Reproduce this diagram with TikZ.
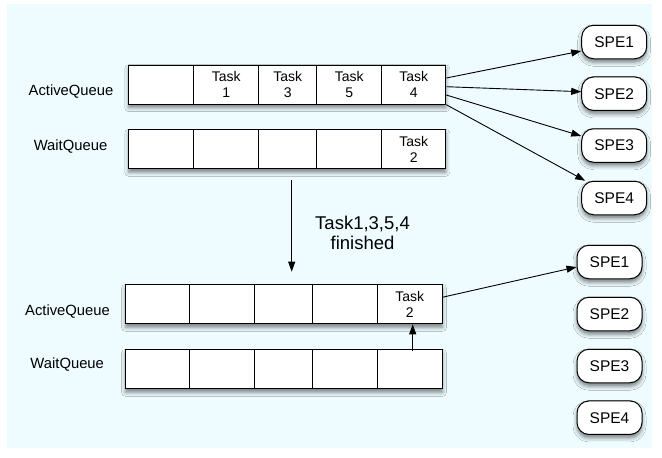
\documentclass[tikz,border=0pt]{standalone}
\usepackage{fontspec}
\setmainfont{Liberation Sans}
\usetikzlibrary{arrows.meta,shadows.blur}
\definecolor{pagebg}{RGB}{238,252,255}
\definecolor{shade}{RGB}{30,40,80}
\tikzset{
  softshadow/.style={blur shadow={shadow xshift=0pt,shadow yshift=-3.5pt,shadow blur radius=4pt,shadow opacity=50}},
  strip/.style={draw,line width=1pt,fill=white,softshadow,anchor=north west,minimum height=39pt,inner sep=0pt},
  cell/.style={draw,line width=1pt,fill=white,anchor=north west,minimum height=39pt,inner sep=0pt,
    align=center,font=\fontsize{14}{16}\selectfont},
  spe/.style={draw,line width=1pt,fill=white,rounded corners=12pt,minimum width=65pt,minimum height=33.5pt,
    inner sep=0pt,softshadow,font=\fontsize{15.5}{17}\selectfont},
  qlabel/.style={font=\fontsize{14.8}{17}\selectfont},
  arr/.style={line width=0.9pt,-{Triangle[length=10pt,width=7pt]}},
}
\begin{document}
\begin{tikzpicture}[x=1pt,y=-1pt]
\useasboundingbox (0,0) rectangle (662,458);
\fill[pagebg] (7,4) rectangle (652,448);

% upper pair of queues
\node[strip,minimum width=317pt] (qa) at (128.3,64.7) {};
\node[strip,minimum width=317pt] (qw) at (128.3,129.3) {};
\foreach \q/\y/\tA/\tB/\tC/\tD/\tE in {a/64.7/{}/{Task\\1}/{Task\\3}/{Task\\5}/{Task\\4},
                                       w/129.3/{}/{}/{}/{}/{Task\\2}}{
  \node[cell,minimum width=65pt] (\q1) at (128.3,\y) {\tA};
  \node[cell,minimum width=65pt] (\q2) at (193.3,\y) {\tB};
  \node[cell,minimum width=58pt] (\q3) at (258.3,\y) {\tC};
  \node[cell,minimum width=65pt] (\q4) at (316.3,\y) {\tD};
  \node[cell,minimum width=64pt] (\q5) at (381.3,\y) {\tE};
}
\node[qlabel] (la) at (71,91.7) {ActiveQueue};
\node[qlabel] (lw) at (70.5,146.7) {WaitQueue};

% lower pair of queues
\node[strip,minimum width=317pt] (qb) at (125,284.3) {};
\node[strip,minimum width=317pt] (qv) at (125,349.3) {};
\foreach \q/\y/\tE in {b/284.3/{Task\\2}, v/349.3/{}}{
  \node[cell,minimum width=64.3pt] (\q1) at (125,\y) {};
  \node[cell,minimum width=65pt] (\q2) at (189.3,\y) {};
  \node[cell,minimum width=57.7pt] (\q3) at (254.3,\y) {};
  \node[cell,minimum width=64.7pt] (\q4) at (312,\y) {};
  \node[cell,minimum width=65pt] (\q5) at (376.7,\y) {\tE};
}
\node[qlabel] (lb) at (67.5,311.7) {ActiveQueue};
\node[qlabel] (lv) at (67.2,365) {WaitQueue};

% processing elements
\node[spe] (s1) at (614.2,42) {SPE1};
\node[spe] (s2) at (614.2,93.7) {SPE2};
\node[spe] (s3) at (614.2,145.5) {SPE3};
\node[spe] (s4) at (614.2,198) {SPE4};
\node[spe] (t1) at (609.5,262) {SPE1};
\node[spe] (t2) at (609.5,314) {SPE2};
\node[spe] (t3) at (609.5,366) {SPE3};
\node[spe] (t4) at (609.5,417.7) {SPE4};

% dispatch to the SPEs
\draw[arr] ([yshift=6.7pt]a5.east) -- ([yshift=-9pt]s1.west);
\draw[arr] ([yshift=-2pt]a5.east) -- ([yshift=2pt]s2.west);
\draw[arr] ([yshift=-10.3pt]a5.east) -- ([yshift=9.5pt]s3.west);
\draw[arr] (a5.south east) -- ([xshift=4pt]s4.north west);
\draw[arr] ([yshift=7.1pt]b5.east) -- ([yshift=-5pt]t1.west);

% transition between the two states
\coordinate (d0) at (291.7,180);
\coordinate (d1) at (291.7,271.7);
\draw[arr] (d0) -- (d1);
\node[align=center,font=\fontsize{18.5}{20}\selectfont] (fin) at (362.5,233) {Task1,3,5,4\\finished};

% task 2 moves up from the wait queue
\draw[arr] ([xshift=3pt,yshift=-2pt]v5.north) -- ([xshift=3pt]b5.south);
\end{tikzpicture}
\end{document}
